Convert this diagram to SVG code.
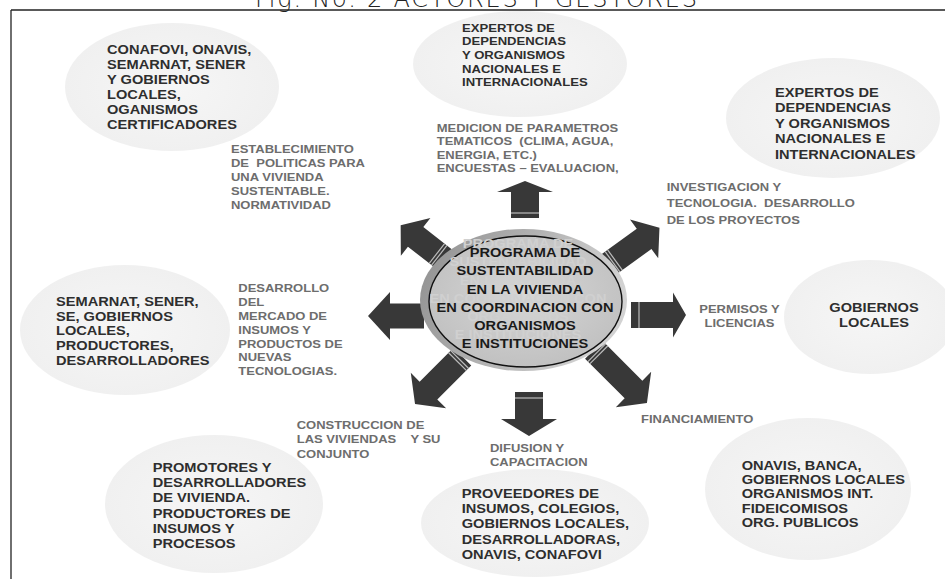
<svg xmlns="http://www.w3.org/2000/svg" width="945" height="579" viewBox="0 0 945 579">
<defs>
<style>
.bg{fill:url(#bgg)}
.nt{font-family:"Liberation Sans",Arial,sans-serif;font-weight:bold;font-size:12.5px;fill:#2e2e2e}
.nts{font-size:11.2px}
.ct{font-family:"Liberation Sans",Arial,sans-serif;font-weight:bold;font-size:12.5px;fill:#1a1a1a;text-anchor:middle}
.gh{fill:#d0d0d0}
.lb{font-family:"Liberation Sans",Arial,sans-serif;font-weight:bold;font-size:10px;fill:#6d6d6d}
.arr{fill:#383838}
.str{stroke:#bdbdbd;stroke-width:1.2}
.frame{stroke:#222;stroke-width:1.3;fill:none}
</style>
<radialGradient id="bgg" cx="0.5" cy="0.5" r="0.5">
<stop offset="0" stop-color="#f6f6f6"/>
<stop offset="1" stop-color="#f0f0f0"/>
</radialGradient>
<linearGradient id="ring" x1="0" y1="0" x2="1" y2="0.3">
<stop offset="0" stop-color="#8e8e8e"/>
<stop offset="1" stop-color="#d2d2d2"/>
</linearGradient>
<radialGradient id="disc" cx="0.5" cy="0.45" r="0.6">
<stop offset="0" stop-color="#d6d6d6"/>
<stop offset="1" stop-color="#bfbfbf"/>
</radialGradient>
</defs>
<rect width="945" height="579" fill="#fff"/>
<text x="255" y="6.5" textLength="442" lengthAdjust="spacing" style="font-family:'DejaVu Sans',sans-serif;font-weight:200;font-size:24px;fill:#222">Fig. No. 2 ACTORES Y GESTORES</text>
<line class="frame" x1="11" y1="10" x2="945" y2="10"/>
<line class="frame" x1="11" y1="10" x2="11" y2="579"/>

<g id="n-conafovi">
<ellipse class="bg" cx="172" cy="87" rx="107" ry="64"/>
<text class="nt" transform="translate(107,54.3) scale(1.17,1)"><tspan x="0" y="0">CONAFOVI, ONAVIS,</tspan><tspan x="0" y="15">SEMARNAT, SENER</tspan><tspan x="0" y="30">Y GOBIERNOS</tspan><tspan x="0" y="45">LOCALES,</tspan><tspan x="0" y="60">OGANISMOS</tspan><tspan x="0" y="75">CERTIFICADORES</tspan></text>
</g>

<g id="n-expertos-top">
<ellipse class="bg" cx="520" cy="64" rx="107" ry="53"/>
<text class="nt nts" transform="translate(462,31.7) scale(1.17,1)"><tspan x="0" y="0">EXPERTOS DE</tspan><tspan x="0" y="13.7">DEPENDENCIAS</tspan><tspan x="0" y="27.4">Y ORGANISMOS</tspan><tspan x="0" y="41.1">NACIONALES E</tspan><tspan x="0" y="54.8">INTERNACIONALES</tspan></text>
</g>

<g id="n-expertos-right">
<ellipse class="bg" cx="833" cy="118" rx="107" ry="60"/>
<text class="nt" transform="translate(775,96.7) scale(1.17,1)"><tspan x="0" y="0">EXPERTOS DE</tspan><tspan x="0" y="15.5">DEPENDENCIAS</tspan><tspan x="0" y="31">Y ORGANISMOS</tspan><tspan x="0" y="46.5">NACIONALES E</tspan><tspan x="0" y="62">INTERNACIONALES</tspan></text>
</g>

<g id="n-gobiernos">
<ellipse class="bg" cx="870" cy="317" rx="86" ry="57"/>
<text class="nt" text-anchor="middle" transform="translate(874,312) scale(1.17,1)"><tspan x="0" y="0">GOBIERNOS</tspan><tspan x="0" y="15">LOCALES</tspan></text>
</g>

<g id="n-onavis-banca">
<ellipse class="bg" cx="808" cy="489" rx="103" ry="71"/>
<text class="nt" transform="translate(741.7,469.5) scale(1.17,1)"><tspan x="0" y="0">ONAVIS, BANCA,</tspan><tspan x="0" y="14.5">GOBIERNOS LOCALES</tspan><tspan x="0" y="29">ORGANISMOS INT.</tspan><tspan x="0" y="43.5">FIDEICOMISOS</tspan><tspan x="0" y="58">ORG. PUBLICOS</tspan></text>
</g>

<g id="n-proveedores">
<ellipse class="bg" cx="535" cy="523" rx="114" ry="54"/>
<text class="nt" transform="translate(461.7,497.5) scale(1.17,1)"><tspan x="0" y="0">PROVEEDORES DE</tspan><tspan x="0" y="15.5">INSUMOS, COLEGIOS,</tspan><tspan x="0" y="31">GOBIERNOS LOCALES,</tspan><tspan x="0" y="46.5">DESARROLLADORAS,</tspan><tspan x="0" y="62">ONAVIS, CONAFOVI</tspan></text>
</g>

<g id="n-promotores">
<ellipse class="bg" cx="214" cy="504" rx="109" ry="69"/>
<text class="nt" transform="translate(152.7,472) scale(1.17,1)"><tspan x="0" y="0">PROMOTORES Y</tspan><tspan x="0" y="15.2">DESARROLLADORES</tspan><tspan x="0" y="30.4">DE VIVIENDA.</tspan><tspan x="0" y="45.6">PRODUCTORES DE</tspan><tspan x="0" y="60.8">INSUMOS Y</tspan><tspan x="0" y="76">PROCESOS</tspan></text>
</g>

<g id="n-semarnat">
<ellipse class="bg" cx="125" cy="330" rx="105" ry="65"/>
<text class="nt" transform="translate(56,306) scale(1.17,1)"><tspan x="0" y="0">SEMARNAT, SENER,</tspan><tspan x="0" y="14.7">SE, GOBIERNOS</tspan><tspan x="0" y="29.4">LOCALES,</tspan><tspan x="0" y="44.1">PRODUCTORES,</tspan><tspan x="0" y="58.8">DESARROLLADORES</tspan></text>
</g>

<g id="connectors">
<g transform="translate(525,218) rotate(-90)"><polygon class="arr" points="0,-14 26,-14 26,-28 37,0 26,28 26,14 0,14"/><line class="str" x1="5" y1="-14" x2="5" y2="14"/></g>
<g transform="translate(529,392) rotate(90)"><polygon class="arr" points="0,-14 27,-14 27,-28 44,0 27,28 27,14 0,14"/><line class="str" x1="6" y1="-14" x2="6" y2="14"/></g>
<g transform="translate(424,316) rotate(180)"><polygon class="arr" points="0,-12.5 34,-12.5 34,-24 56,0 34,24 34,12.5 0,12.5"/></g>
<g transform="translate(631,315)"><polygon class="arr" points="0,-13 42,-13 42,-22.5 55,0 42,22.5 42,13 0,13"/><line class="str" x1="8" y1="-13" x2="8" y2="13"/></g>
<g transform="translate(444,259) rotate(-142)"><polygon class="arr" points="0,-12.5 36,-12.5 36,-24 55,0 36,24 36,12.5 0,12.5"/><line class="str" x1="6" y1="-12.5" x2="6" y2="12.5"/><line class="str" x1="9" y1="-12.5" x2="9" y2="12.5"/></g>
<g transform="translate(608.5,264.7) rotate(-36)"><polygon class="arr" points="0,-12.5 44,-12.5 44,-24 63,0 44,24 44,12.5 0,12.5"/><line class="str" x1="5" y1="-12.5" x2="5" y2="12.5"/><line class="str" x1="8" y1="-12.5" x2="8" y2="12.5"/></g>
<g transform="translate(462.4,356.6) rotate(135)"><polygon class="arr" points="0,-12.5 48,-12.5 48,-25 67,0 48,25 48,12.5 0,12.5"/><line class="str" x1="4" y1="-12.5" x2="4" y2="12.5"/><line class="str" x1="7" y1="-12.5" x2="7" y2="12.5"/></g>
<g transform="translate(593.9,349.9) rotate(45)"><polygon class="arr" points="0,-12.5 56,-12.5 56,-25 75,0 56,25 56,12.5 0,12.5"/><line class="str" x1="4" y1="-12.5" x2="4" y2="12.5"/><line class="str" x1="7" y1="-12.5" x2="7" y2="12.5"/></g>

<text class="lb" xml:space="preserve" transform="translate(231,152.7) scale(1.3,1)"><tspan x="0" y="0">ESTABLECIMIENTO</tspan><tspan x="0" y="14.2">DE  POLITICAS PARA</tspan><tspan x="0" y="28.4">UNA VIVIENDA</tspan><tspan x="0" y="42.6">SUSTENTABLE.</tspan><tspan x="0" y="56.8">NORMATIVIDAD</tspan></text>
<text class="lb" xml:space="preserve" transform="translate(436.7,131.7) scale(1.3,1)"><tspan x="0" y="0">MEDICION DE PARAMETROS</tspan><tspan x="0" y="13.6">TEMATICOS  (CLIMA, AGUA,</tspan><tspan x="0" y="27.2">ENERGIA, ETC.)</tspan><tspan x="0" y="40.8">ENCUESTAS – EVALUACION,</tspan></text>
<text class="lb" xml:space="preserve" transform="translate(666.7,190.7) scale(1.3,1)"><tspan x="0" y="0">INVESTIGACION Y</tspan><tspan x="0" y="16.6">TECNOLOGIA.  DESARROLLO</tspan><tspan x="0" y="33.2">DE LOS PROYECTOS</tspan></text>
<text class="lb" text-anchor="middle" transform="translate(739.5,313.3) scale(1.3,1)"><tspan x="0" y="0">PERMISOS Y</tspan><tspan x="0" y="13.4">LICENCIAS</tspan></text>
<text class="lb" transform="translate(641,422.5) scale(1.3,1)">FINANCIAMIENTO</text>
<text class="lb" transform="translate(490,451.7) scale(1.3,1)"><tspan x="0" y="0">DIFUSION Y</tspan><tspan x="0" y="14.1">CAPACITACION</tspan></text>
<text class="lb" xml:space="preserve" transform="translate(296.7,429) scale(1.3,1)"><tspan x="0" y="0">CONSTRUCCION DE</tspan><tspan x="0" y="14.3">LAS VIVIENDAS    Y SU</tspan><tspan x="0" y="28.6">CONJUNTO</tspan></text>
<text class="lb" transform="translate(238.3,292.3) scale(1.3,1)"><tspan x="0" y="0">DESARROLLO</tspan><tspan x="0" y="13.83">DEL</tspan><tspan x="0" y="27.66">MERCADO DE</tspan><tspan x="0" y="41.5">INSUMOS Y</tspan><tspan x="0" y="55.3">PRODUCTOS DE</tspan><tspan x="0" y="69.2">NUEVAS</tspan><tspan x="0" y="83">TECNOLOGIAS.</tspan></text>
</g>

<g id="n-programa">
<ellipse cx="523.5" cy="300" rx="103.5" ry="71" fill="url(#ring)"/>
<ellipse cx="525.5" cy="301.5" rx="96.5" ry="65.5" fill="url(#disc)" stroke="#111" stroke-width="1.4"/>
<text class="ct gh" transform="translate(518,248) scale(1.17,1)"><tspan x="0" y="0">PROGRAMA DE</tspan><tspan x="0" y="18.3">SUSTENTABILIDAD</tspan><tspan x="0" y="36.6">EN LA VIVIENDA</tspan><tspan x="0" y="54.9">EN COORDINACION CON</tspan><tspan x="0" y="73.2">ORGANISMOS</tspan><tspan x="0" y="91.5">E INSTITUCIONES</tspan></text>
<text class="ct" transform="translate(525,257) scale(1.17,1)"><tspan x="0" y="0">PROGRAMA DE</tspan><tspan x="0" y="18.3">SUSTENTABILIDAD</tspan><tspan x="0" y="36.6">EN LA VIVIENDA</tspan><tspan x="0" y="54.9">EN COORDINACION CON</tspan><tspan x="0" y="73.2">ORGANISMOS</tspan><tspan x="0" y="91.5">E INSTITUCIONES</tspan></text>
</g>
</svg>
